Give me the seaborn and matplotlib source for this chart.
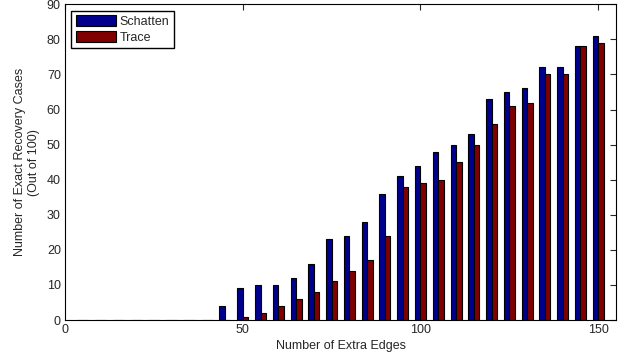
import numpy as np
import pandas as pd
import matplotlib
matplotlib.use("Agg")
import matplotlib.pyplot as plt
import seaborn as sns

edges = list(range(5, 155, 5))
schatten = [0, 0, 0, 0, 0, 0, 0, 0, 4, 9, 10, 10, 12, 16, 23, 24, 28, 36, 41, 44,
            48, 50, 53, 63, 65, 66, 72, 72, 78, 81]
trace = [0, 0, 0, 0, 0, 0, 0, 0, 0, 1, 2, 4, 6, 8, 11, 14, 17, 24, 38, 39,
         40, 45, 50, 56, 61, 62, 70, 70, 78, 79]
series_names = ["Schatten", "Trace"]
xticks = [0, 50, 100, 150]
yticks = list(range(0, 100, 10))

df = pd.DataFrame({
    "edges": edges * 2,
    "count": schatten + trace,
    "method": [series_names[0]] * len(edges) + [series_names[1]] * len(edges),
})

sns.set_style("white")
plt.rcParams["font.family"] = ["Liberation Sans", "DejaVu Sans"]

fig = plt.figure(figsize=(6.3, 3.58), dpi=100)
ax = fig.add_axes([0.1032, 0.106, 0.8746, 0.882])

sns.barplot(data=df, x="edges", y="count", hue="method", native_scale=True,
            width=0.62, palette=["#00008F", "#800000"], edgecolor="black",
            linewidth=0.8, ax=ax, errorbar=None, saturation=1)

ax.set_xlim(0, 155)
ax.set_ylim(0, 90)
ax.set_xticks(xticks)
ax.set_yticks(yticks)
ax.tick_params(direction="in", top=True, right=True, labelsize=9, length=4,
               width=0.8, pad=3)
for s in ax.spines.values():
    s.set_color("black")
    s.set_linewidth(0.8)
ax.set_xlabel("Number of Extra Edges", fontsize=9, labelpad=3)
ax.set_ylabel("Number of Exact Recovery Cases\n(Out of 100)", fontsize=9, labelpad=5)

h, l = ax.get_legend_handles_labels()
ax.legend(h, l, loc="upper left", fancybox=False, edgecolor="black", framealpha=1,
          fontsize=9, handlelength=3.2, handleheight=1.0, borderaxespad=0.5,
          labelspacing=0.25, handletextpad=0.3, borderpad=0.35)

fig.savefig("out.png", dpi=100)
